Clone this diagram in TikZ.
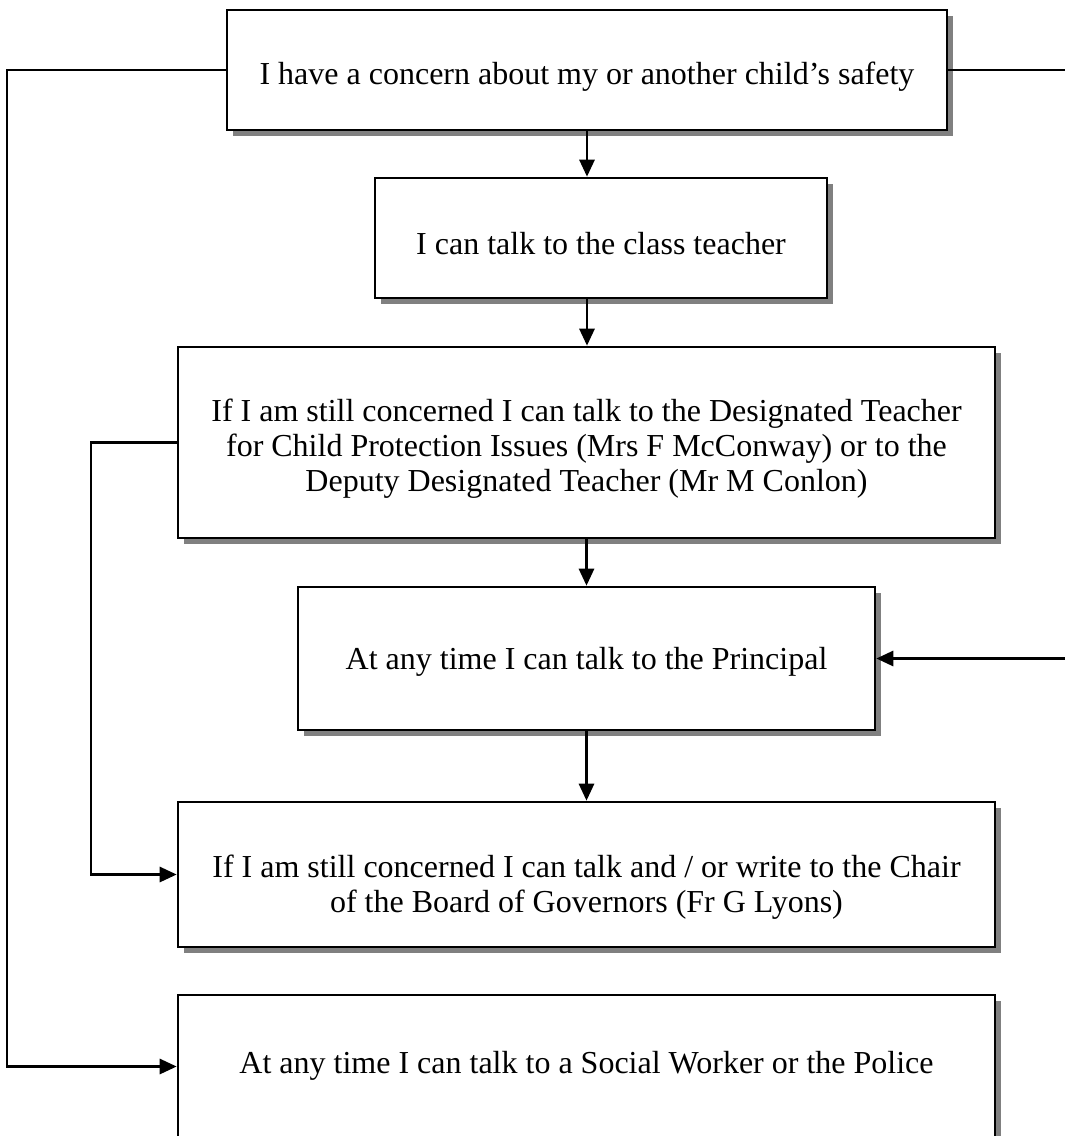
\documentclass[tikz,border=0pt]{standalone}
\usepackage{fontspec}
\setmainfont{Liberation Serif}
\usetikzlibrary{arrows.meta,shadows}
\definecolor{shadowgray}{HTML}{808080}
\begin{document}
\begin{tikzpicture}[x=1pt,y=-1pt,
  box/.style={draw=black,line width=2.6pt,fill=white,inner sep=0pt,
    drop shadow={shadow xshift=5.5pt,shadow yshift=-5.5pt,fill=shadowgray,opacity=1}},
  txt/.style={align=center,inner sep=0pt,font=\fontsize{32}{35}\selectfont},
  arr/.style={line width=2.8pt,line join=miter,-{Triangle[length=17pt,width=15pt]}}]
\useasboundingbox (0,0) rectangle (1065,1136);
% boxes
\node[box,minimum width=720pt,minimum height=120pt] (b1) at (587,70) {};
\node[box,minimum width=452pt,minimum height=120pt] (b2) at (601,238) {};
\node[box,minimum width=817pt,minimum height=191pt] (b3) at (586.5,442.5) {};
\node[box,minimum width=577pt,minimum height=143pt] (b4) at (586.5,658.5) {};
\node[box,minimum width=817pt,minimum height=145pt] (b5) at (586.5,874.5) {};
\node[box,minimum width=817pt,minimum height=143pt] (b6) at (586.5,1066.5) {};
% texts
\node[txt] (t1) at ([yshift=-7pt]b1.center) {I have a concern about my or another child’s safety};
\node[txt] (t2) at ([yshift=-6pt]b2.center) {I can talk to the class teacher};
\node[txt] (t3) at ([yshift=-6pt]b3.center) {If I am still concerned I can talk to the Designated Teacher\\for Child Protection Issues (Mrs F McConway) or to the\\Deputy Designated Teacher (Mr M Conlon)};
\node[txt] (t4) at ([yshift=-3pt]b4.center) {At any time I can talk to the Principal};
\node[txt] (t5) at ([yshift=-13pt]b5.center) {If I am still concerned I can talk and / or write to the Chair\\of the Board of Governors (Fr G Lyons)};
\node[txt] (t6) at ([yshift=1pt]b6.center) {At any time I can talk to a Social Worker or the Police};
% coordinates for outer routes
\coordinate (lo) at (7,0);
\coordinate (li) at (91,0);
\coordinate (ro) at (1072,0);
% vertical arrows
\draw[arr] (b1.south) -- (b1.south |- b2.north);
\draw[arr] (b1.south |- b2.south) -- (b1.south |- b3.north);
\draw[arr] (b3.south) -- (b3.south |- b4.north);
\draw[arr] (b4.south) -- (b4.south |- b5.north);
% side routes
\draw[arr] (b1.west) -- (lo |- b1.west) -- (lo |- b6.west) -- (b6.west);
\draw[arr] (b3.west) -- (li |- b3.west) -- (li |- b5.west) -- (b5.west);
\draw[arr] (b1.east) -- (ro |- b1.east) -- (ro |- b4.east) -- (b4.east);
\end{tikzpicture}
\end{document}
